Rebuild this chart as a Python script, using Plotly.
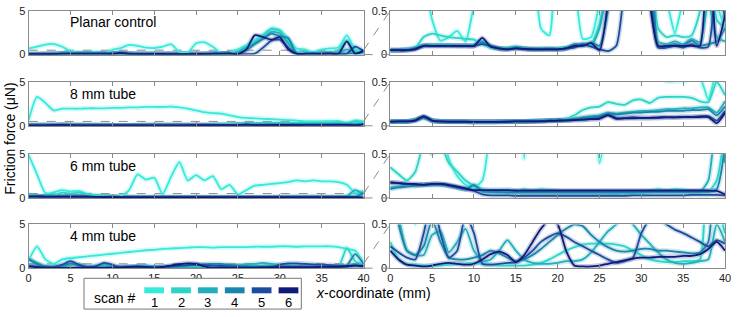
import plotly.graph_objects as go

# ---------------- data ----------------
X_MM = list(range(41))
X_TICKS = [0, 5, 10, 15, 20, 25, 30, 35, 40]
LEFT_YTICKS = [0, 5]
LEFT_YTEXT = ["0", "5"]
RIGHT_YTICKS = [0, 0.5]
RIGHT_YTEXT = ["0", "0.5"]
THRESHOLD = 0.5

SCAN_LABELS = ["1", "2", "3", "4", "5", "6"]
SCAN_COLORS = ["#35EADB", "#2CD3C7", "#22AEBA", "#1A84AD", "#1C4C9D", "#0F1A7A"]
PANEL_TITLES = ["Planar control", "8 mm tube", "6 mm tube", "4 mm tube"]

# Planar control
PC_S1 = [0.70, 0.90, 1.15, 1.20, 0.90, 0.40, 0.16, 0.20, 0.27, 0.15,
         0.55, 0.75, 1.10, 1.00, 0.80, 0.75, 0.90, 1.20, 0.30, 0.22,
         1.30, 1.40, 0.90, 0.18, 0.20, 0.60, 1.10, 1.60, 2.30, 3.00,
         2.80, 1.80, 0.70, 0.60, 0.25, 0.60, 0.70, 0.80, 2.20, 0.60,
         0.30]
PC_S2 = [0.05, 0.05, 0.06, 0.08, 0.20, 0.24, 0.22, 0.20, 0.19, 0.18,
         0.17, 0.12, 0.08, 0.07, 0.07, 0.08, 0.07, 0.06, 0.07, 0.06,
         0.07, 0.08, 0.10, 0.12, 0.12, 0.35, 0.90, 1.50, 2.20, 2.90,
         2.70, 1.50, 0.30, 0.20, 0.22, 0.20, 0.22, 0.50, 1.60, 0.40,
         0.30]
PC_S3 = [0.05, 0.05, 0.06, 0.08, 0.11, 0.11, 0.11, 0.11, 0.10, 0.10,
         0.11, 0.15, 0.10, 0.07, 0.07, 0.09, 0.07, 0.06, 0.06, 0.07,
         0.06, 0.07, 0.10, 0.12, 0.10, 0.30, 0.80, 1.30, 1.90, 2.60,
         2.40, 1.30, 0.15, 0.12, 0.15, 0.12, 0.18, 0.14, 0.60, 0.20,
         0.15]
PC_S4 = [0.05, 0.05, 0.055, 0.07, 0.10, 0.10, 0.10, 0.10, 0.10, 0.10,
         0.10, 0.14, 0.09, 0.07, 0.065, 0.08, 0.07, 0.065, 0.06, 0.065,
         0.06, 0.07, 0.12, 0.10, 0.14, 0.10, 0.50, 1.20, 1.80, 2.40,
         2.10, 1.90, 0.10, 0.10, 0.12, 0.10, 0.16, 0.10, 0.12, 0.15,
         0.30]
PC_S5 = [0.05, 0.05, 0.05, 0.07, 0.10, 0.10, 0.10, 0.10, 0.10, 0.10,
         0.10, 0.12, 0.10, 0.07, 0.06, 0.07, 0.065, 0.06, 0.06, 0.06,
         0.06, 0.07, 0.08, 0.12, 0.09, 0.06, 0.04, 0.10, 0.80, 1.60,
         1.70, 0.80, 0.08, 0.08, 0.10, 0.08, 0.12, 0.08, 0.09, 0.90,
         0.40]
PC_S6 = [0.05, 0.05, 0.05, 0.06, 0.10, 0.10, 0.10, 0.10, 0.10, 0.10,
         0.10, 0.19, 0.09, 0.07, 0.06, 0.07, 0.065, 0.06, 0.06, 0.06,
         0.06, 0.07, 0.10, 0.10, 0.13, 0.05, 0.60, 2.20, 2.00, 1.70,
         2.00, 0.60, 0.10, 0.10, 0.10, 0.10, 0.10, 0.10, 1.50, 0.10,
         0.45]

# 8 mm tube
T8_S1 = [0.65, 3.30, 2.60, 1.75, 1.95, 1.95, 1.95, 2.00, 2.00, 2.00,
         2.05, 2.05, 2.10, 2.10, 2.15, 2.15, 2.15, 2.20, 2.10, 1.95,
         1.75, 1.55, 1.45, 1.40, 1.20, 1.00, 0.90, 0.85, 0.80, 0.75,
         0.70, 0.65, 0.60, 0.51, 0.51, 0.51, 0.53, 0.55, 0.30, 0.60,
         0.50]
T8_S2 = [0.05, 0.05, 0.05, 0.07, 0.10, 0.06, 0.05, 0.05, 0.05, 0.05,
         0.045, 0.045, 0.045, 0.05, 0.05, 0.05, 0.05, 0.055, 0.06, 0.06,
         0.065, 0.08, 0.12, 0.18, 0.21, 0.22, 0.27, 0.25, 0.24, 0.29,
         0.30, 0.26, 0.32, 0.33, 0.33, 0.33, 0.32, 0.28, 0.27, 0.50,
         0.35]
T8_S3 = [0.05, 0.05, 0.05, 0.07, 0.10, 0.06, 0.05, 0.05, 0.05, 0.05,
         0.045, 0.045, 0.045, 0.05, 0.05, 0.05, 0.05, 0.055, 0.06, 0.06,
         0.065, 0.07, 0.08, 0.10, 0.11, 0.12, 0.15, 0.14, 0.15, 0.16,
         0.17, 0.17, 0.18, 0.19, 0.19, 0.20, 0.20, 0.21, 0.21, 0.15,
         0.28]
T8_S4 = [0.05, 0.05, 0.05, 0.065, 0.09, 0.06, 0.05, 0.05, 0.05, 0.05,
         0.045, 0.045, 0.045, 0.05, 0.05, 0.05, 0.05, 0.055, 0.055, 0.06,
         0.06, 0.065, 0.075, 0.09, 0.10, 0.11, 0.14, 0.13, 0.14, 0.15,
         0.15, 0.16, 0.16, 0.17, 0.17, 0.17, 0.18, 0.18, 0.19, 0.12,
         0.22]
T8_S5 = [0.05, 0.05, 0.05, 0.065, 0.10, 0.06, 0.05, 0.05, 0.05, 0.05,
         0.045, 0.045, 0.045, 0.045, 0.05, 0.05, 0.05, 0.05, 0.055, 0.06,
         0.06, 0.065, 0.07, 0.07, 0.08, 0.09, 0.13, 0.09, 0.09, 0.10,
         0.09, 0.09, 0.10, 0.10, 0.10, 0.10, 0.10, 0.11, 0.11, 0.06,
         0.17]
T8_S6 = [0.045, 0.05, 0.05, 0.06, 0.11, 0.06, 0.05, 0.045, 0.045, 0.045,
         0.045, 0.045, 0.045, 0.045, 0.045, 0.05, 0.05, 0.05, 0.05, 0.055,
         0.06, 0.06, 0.065, 0.07, 0.075, 0.08, 0.12, 0.08, 0.085, 0.085,
         0.09, 0.09, 0.09, 0.095, 0.095, 0.10, 0.10, 0.10, 0.10, 0.03,
         0.15]

# 6 mm tube
T6_S1 = [4.90, 2.70, 0.55, 0.65, 0.90, 0.75, 0.80, 0.45, 0.25, 0.15,
         0.12, 0.20, 0.90, 2.70, 2.10, 2.30, 0.45, 2.40, 4.10, 2.00,
         2.60, 2.00, 2.50, 1.00, 1.50, 0.40, 0.90, 1.40, 1.50, 1.60,
         1.70, 1.80, 2.00, 1.90, 2.00, 1.90, 1.90, 1.80, 1.50, 0.60,
         0.70]
T6_S2 = [0.35, 0.27, 0.20, 0.30, 0.60, 0.50, 0.60, 0.40, 0.30, 0.20,
         0.14, 0.10, 0.08, 0.08, 0.09, 0.08, 0.10, 0.08, 0.10, 0.09,
         0.08, 0.07, 0.07, 0.07, 0.07, 0.07, 0.06, 0.06, 0.06, 0.06,
         0.06, 0.07, 0.10, 0.08, 0.10, 0.09, 0.07, 0.07, 0.07, 0.20,
         0.80]
T6_S3 = [0.12, 0.13, 0.14, 0.14, 0.15, 0.15, 0.15, 0.14, 0.12, 0.10,
         0.14, 0.07, 0.07, 0.065, 0.065, 0.065, 0.065, 0.065, 0.065, 0.065,
         0.065, 0.065, 0.065, 0.065, 0.065, 0.065, 0.065, 0.065, 0.065, 0.065,
         0.065, 0.07, 0.07, 0.07, 0.07, 0.07, 0.07, 0.07, 0.20, 0.90,
         0.40]
T6_S4 = [0.10, 0.12, 0.13, 0.14, 0.15, 0.15, 0.15, 0.14, 0.12, 0.10,
         0.15, 0.08, 0.07, 0.07, 0.065, 0.065, 0.065, 0.065, 0.065, 0.065,
         0.065, 0.065, 0.065, 0.065, 0.065, 0.065, 0.065, 0.065, 0.065, 0.065,
         0.07, 0.07, 0.07, 0.07, 0.07, 0.07, 0.07, 0.07, 0.07, 0.10,
         0.60]
T6_S5 = [0.17, 0.17, 0.16, 0.15, 0.15, 0.16, 0.16, 0.14, 0.12, 0.10,
         0.08, 0.04, 0.03, 0.03, 0.03, 0.025, 0.025, 0.025, 0.025, 0.025,
         0.025, 0.025, 0.025, 0.025, 0.025, 0.025, 0.025, 0.025, 0.025, 0.03,
         0.03, 0.03, 0.03, 0.03, 0.03, 0.03, 0.035, 0.035, 0.035, 0.035,
         0.03]
T6_S6 = [0.18, 0.17, 0.16, 0.16, 0.15, 0.16, 0.16, 0.15, 0.13, 0.11,
         0.09, 0.09, 0.09, 0.09, 0.09, 0.085, 0.085, 0.085, 0.085, 0.085,
         0.085, 0.085, 0.085, 0.085, 0.085, 0.085, 0.085, 0.085, 0.085, 0.085,
         0.085, 0.085, 0.085, 0.085, 0.085, 0.085, 0.085, 0.085, 0.085, 0.08,
         0.04]

# 4 mm tube
T4_S1 = [0.90, 2.50, 1.00, 0.50, 1.00, 1.15, 1.25, 1.35, 1.45, 1.55,
         1.65, 1.75, 1.85, 1.95, 2.05, 2.10, 2.20, 2.25, 2.30, 2.35,
         2.40, 2.40, 2.35, 2.40, 2.40, 2.40, 2.40, 2.45, 2.45, 2.45,
         2.50, 2.50, 2.45, 2.50, 2.50, 2.50, 2.50, 2.40, 2.20, 2.00,
         0.60]
T4_S2 = [0.30, 0.10, 0.05, 0.04, 0.03, 0.03, 0.03, 0.04, 0.05, 0.05,
         0.06, 0.05, 0.04, 0.03, 0.03, 0.03, 0.03, 0.04, 0.06, 0.10,
         0.15, 0.20, 0.24, 0.27, 0.28, 0.28, 0.28, 0.27, 0.25, 0.20,
         0.15, 0.10, 0.08, 0.07, 0.07, 0.08, 0.08, 0.10, 2.30, 0.80,
         0.40]
T4_S3 = [1.10, 0.60, 0.20, 0.15, 0.15, 0.38, 0.42, 0.18, 0.30, 0.45,
         0.20, 0.08, 0.10, 0.20, 0.32, 0.20, 0.10, 0.06, 0.05, 0.05,
         0.06, 0.08, 0.08, 0.10, 0.18, 0.30, 0.42, 0.50, 0.60, 0.50,
         0.38, 0.28, 0.18, 0.10, 0.06, 0.05, 0.06, 0.08, 0.10, 0.50,
         0.30]
T4_S4 = [1.00, 0.50, 0.20, 0.15, 0.25, 0.55, 0.30, 0.12, 0.10, 0.10,
         0.12, 0.15, 0.20, 0.17, 0.12, 0.08, 0.10, 0.15, 0.22, 0.30,
         0.38, 0.45, 0.50, 0.48, 0.38, 0.30, 0.24, 0.20, 0.19, 0.20,
         0.22, 0.22, 0.20, 0.20, 0.19, 0.18, 0.17, 0.18, 0.30, 1.60,
         0.50]
T4_S5 = [0.25, 0.18, 0.12, 0.10, 0.40, 0.80, 0.40, 0.12, 0.20, 0.60,
         0.40, 0.05, 0.04, 0.05, 0.06, 0.07, 0.12, 0.20, 0.30, 0.36,
         0.40, 0.36, 0.30, 0.25, 0.20, 0.15, 0.10, 0.06, 0.08, 0.12,
         0.40, 0.55, 0.55, 0.50, 0.44, 0.40, 0.35, 0.30, 0.25, 0.32,
         0.28]
T4_S6 = [0.20, 0.10, 0.04, 0.03, 0.02, 0.03, 0.05, 0.06, 0.05, 0.04,
         0.05, 0.10, 0.16, 0.19, 0.15, 0.07, 0.15, 0.30, 0.45, 0.55,
         0.50, 0.20, 0.03, 0.02, 0.02, 0.03, 0.05, 0.07, 0.09, 0.11,
         0.12, 0.12, 0.13, 0.13, 0.13, 0.14, 0.14, 0.16, 0.22, 0.30,
         0.20]

PANELS = [
    [PC_S1, PC_S2, PC_S3, PC_S4, PC_S5, PC_S6],
    [T8_S1, T8_S2, T8_S3, T8_S4, T8_S5, T8_S6],
    [T6_S1, T6_S2, T6_S3, T6_S4, T6_S5, T6_S6],
    [T4_S1, T4_S2, T4_S3, T4_S4, T4_S5, T4_S6],
]

# ---------------- layout geometry (pixels) ----------------
W, H = 738, 317
COL_PX = [(26, 365), (392, 731)]
ROW_TOP_PX = [5, 79, 154, 227]
ROW_H_PX = 45.5
FONT = "Liberation Sans, Arial, sans-serif"
FRAME = "#8a8a8a"
DASH = "#8c8c8c"


def px_x(p):
    return p / W


def px_y(p):
    return 1 - p / H


def rgba(hexcol, a):
    h = hexcol.lstrip("#")
    return "rgba(%d,%d,%d,%.2f)" % (int(h[0:2], 16), int(h[2:4], 16), int(h[4:6], 16), a)


fig = go.Figure()
layout = dict(
    width=W, height=H, margin=dict(l=0, r=0, t=0, b=0),
    paper_bgcolor="white", plot_bgcolor="white", showlegend=False,
    font=dict(family=FONT, size=11, color="#222"),
)
shapes = []
annotations = []

for r in range(4):
    top = ROW_TOP_PX[r]
    bot = top + ROW_H_PX
    ydom = [px_y(bot), px_y(top)]
    for c in range(2):
        idx = r * 2 + c + 1
        xname = "xaxis" if idx == 1 else f"xaxis{idx}"
        yname = "yaxis" if idx == 1 else f"yaxis{idx}"
        xref = "x" if idx == 1 else f"x{idx}"
        yref = "y" if idx == 1 else f"y{idx}"
        xdom = [px_x(COL_PX[c][0]), px_x(COL_PX[c][1])]
        layout[xname] = dict(
            domain=xdom, anchor=yref, range=[0, 40], tickvals=X_TICKS,
            showticklabels=(r == 3), ticks="inside", ticklen=4, tickwidth=1,
            tickcolor=FRAME, showline=True, linecolor=FRAME, linewidth=1,
            mirror="ticks", showgrid=False, zeroline=False,
            tickfont=dict(size=11, color="#222"), fixedrange=True,
        )
        yr = [0, 5] if c == 0 else [0, 0.5]
        layout[yname] = dict(
            domain=ydom, anchor=xref, range=yr,
            tickvals=LEFT_YTICKS if c == 0 else RIGHT_YTICKS,
            ticktext=LEFT_YTEXT if c == 0 else RIGHT_YTEXT,
            ticks="inside", ticklen=4, tickwidth=1, tickcolor=FRAME,
            showline=True, linecolor=FRAME, linewidth=1, mirror="ticks",
            showgrid=False, zeroline=False,
            tickfont=dict(size=11, color="#222"), fixedrange=True,
        )
        if c == 0:
            shapes.append(dict(type="line", xref=xref, yref=yref, x0=0, x1=40,
                               y0=THRESHOLD, y1=THRESHOLD, layer="below",
                               line=dict(color=DASH, width=1, dash="dash")))
        # soft halos (error-band look) first, then the lines
        for s in range(6):
            fig.add_trace(go.Scatter(
                x=X_MM, y=PANELS[r][s], mode="lines", xaxis=xref, yaxis=yref,
                line=dict(color=rgba(SCAN_COLORS[s], 0.22), width=5,
                          shape="spline", smoothing=0.6),
                hoverinfo="skip", showlegend=False,
            ))
        for s in range(6):
            fig.add_trace(go.Scatter(
                x=X_MM, y=PANELS[r][s], mode="lines", xaxis=xref, yaxis=yref,
                line=dict(color=SCAN_COLORS[s], width=1.8, shape="spline",
                          smoothing=0.6),
                hoverinfo="skip", name="scan " + SCAN_LABELS[s],
            ))
    # zoom connectors between left and right panels
    frac = THRESHOLD / 5.0
    y_thr_left = ydom[0] + frac * (ydom[1] - ydom[0])
    shapes.append(dict(type="line", xref="paper", yref="paper",
                       x0=px_x(COL_PX[0][1]), y0=y_thr_left,
                       x1=px_x(COL_PX[1][0]), y1=ydom[1],
                       line=dict(color=DASH, width=1, dash="dash")))
    shapes.append(dict(type="line", xref="paper", yref="paper",
                       x0=px_x(COL_PX[0][1]), y0=ydom[0],
                       x1=px_x(COL_PX[1][0]), y1=ydom[0],
                       line=dict(color=DASH, width=1, dash="dash")))
    annotations.append(dict(text=PANEL_TITLES[r], xref="paper", yref="paper",
                            x=px_x(66), y=px_y(top + 12), xanchor="left",
                            yanchor="middle", showarrow=False,
                            font=dict(size=14, color="black", family=FONT)))

# axis titles
annotations.append(dict(text="Friction force (\u03bcN)", xref="paper", yref="paper",
                        x=px_x(7), y=px_y(138), textangle=-90, showarrow=False,
                        xanchor="center", yanchor="middle",
                        font=dict(size=14, color="black", family=FONT)))
annotations.append(dict(text="<i>x</i>-coordinate (mm)", xref="paper", yref="paper",
                        x=px_x(315), y=px_y(298), xanchor="left", yanchor="middle",
                        showarrow=False, font=dict(size=14, color="black", family=FONT)))

# custom legend
shapes.append(dict(type="rect", xref="paper", yref="paper",
                   x0=px_x(82), x1=px_x(302), y0=px_y(315), y1=px_y(283),
                   line=dict(color="#777", width=1), fillcolor="white"))
annotations.append(dict(text="scan #", xref="paper", yref="paper",
                        x=px_x(90), y=px_y(303), xanchor="left", yanchor="middle",
                        showarrow=False, font=dict(size=14, color="black", family=FONT)))
for s in range(6):
    cx = 153 + s * 27.2
    shapes.append(dict(type="line", xref="paper", yref="paper",
                       x0=px_x(cx - 10), x1=px_x(cx + 10),
                       y0=px_y(295.5), y1=px_y(295.5),
                       line=dict(color=SCAN_COLORS[s], width=6)))
    annotations.append(dict(text=SCAN_LABELS[s], xref="paper", yref="paper",
                            x=px_x(cx), y=px_y(308), xanchor="center",
                            yanchor="middle", showarrow=False,
                            font=dict(size=13, color="black", family=FONT)))

layout["shapes"] = shapes
layout["annotations"] = annotations
fig.update_layout(**layout)
fig.write_html("out.html")
